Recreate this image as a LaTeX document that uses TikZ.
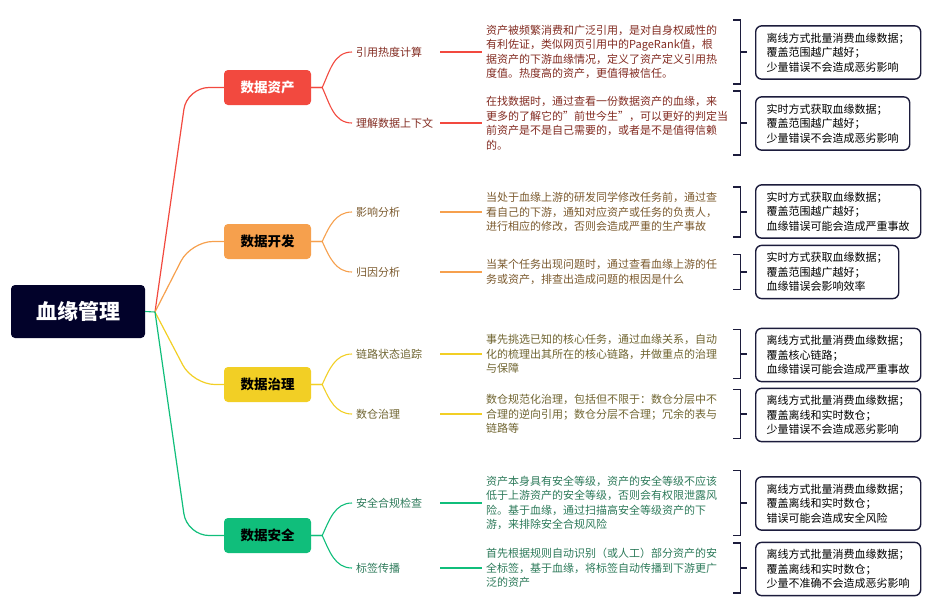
\documentclass[tikz,border=0pt]{standalone}
\usepackage{fontspec}
\setmainfont{Noto Sans CJK SC}
\usepackage{tikz}
\usetikzlibrary{positioning}
\definecolor{rootblue}{HTML}{02022A}
\definecolor{notec}{HTML}{1C1C3C}
\definecolor{redl}{HTML}{F2493F}
\definecolor{redt}{HTML}{822B21}
\definecolor{orgl}{HTML}{F6A04D}
\definecolor{orgt}{HTML}{7B5A2E}
\definecolor{yell}{HTML}{F2CF25}
\definecolor{yelt}{HTML}{6F6430}
\definecolor{grnl}{HTML}{10BE7B}
\definecolor{grnt}{HTML}{2D7A5A}
\tikzstyle{root} = [rectangle, rounded corners=4pt, fill=rootblue, text=white, font=\fontsize{21}{24}\selectfont\bfseries, minimum width=134pt, minimum height=53pt]
\tikzstyle{cat} = [rectangle, rounded corners=4pt, minimum width=87pt, minimum height=35pt, font=\fontsize{13.5}{16}\selectfont\bfseries]
\tikzstyle{sub} = [anchor=west, inner xsep=4pt, inner ysep=2pt, text width=80pt, font=\fontsize{11}{13}\selectfont]
\tikzstyle{desc} = [anchor=west, inner xsep=4pt, inner ysep=5pt, text width=243pt, align=left, font=\fontsize{11}{14.5}\selectfont]
\tikzstyle{note} = [anchor=west, draw=notec, line width=1.4pt, rounded corners=6pt, inner xsep=11pt, inner ysep=7pt, align=left, font=\fontsize{11}{14.5}\selectfont]
\tikzstyle{branch} = [line width=1.2pt, rounded corners=22pt]
\tikzstyle{sline} = [line width=1.1pt]
\tikzstyle{bracket} = [line width=1.4pt, draw=notec]

\begin{document}
\begin{tikzpicture}[x=1pt, y=1pt]
                \useasboundingbox (0,0) rectangle (937,-603);
                \node (root) [root] at (78,-311.5) {血缘管理};
                \node (asset) [cat, fill=redl, text=white] at (267.5,-87.5) {数据资产};
                \node (dev) [cat, fill=orgl] at (267.5,-241.5) {数据开发};
                \node (gov) [cat, fill=yell] at (267.5,-384.5) {数据治理};
                \node (sec) [cat, fill=grnl] at (267.5,-535.5) {数据安全};

                \node (heat) [sub, text=redt] at (352,-52) {引用热度计算};
                \node (ctx) [sub, text=redt] at (352,-123) {理解数据上下文};
                \node (impact) [sub, text=orgt] at (352,-212) {影响分析};
                \node (cause) [sub, text=orgt] at (352,-272) {归因分析};
                \node (trace) [sub, text=yelt] at (352,-354) {链路状态追踪};
                \node (dw) [sub, text=yelt] at (352,-414) {数仓治理};
                \node (check) [sub, text=grnt] at (352,-503) {安全合规检查};
                \node (tag) [sub, text=grnt] at (352,-568) {标签传播};

                \node (heatd) [desc, text=redt] at (482,-52) {资产被频繁消费和广泛引用，是对自身权威性的\\有利佐证，类似网页引用中的PageRank值，根\\据资产的下游血缘情况，定义了资产定义引用热\\度值。热度高的资产，更值得被信任。};
                \node (ctxd) [desc, text=redt] at (482,-123) {在找数据时，通过查看一份数据资产的血缘，来\\更多的了解它的"前世今生"，可以更好的判定当\\前资产是不是自己需要的，或者是不是值得信赖\\的。};
                \node (impactd) [desc, text=orgt] at (482,-212) {当处于血缘上游的研发同学修改任务前，通过查\\看自己的下游，通知对应资产或任务的负责人，\\进行相应的修改，否则会造成严重的生产事故};
                \node (caused) [desc, text=orgt] at (482,-272) {当某个任务出现问题时，通过查看血缘上游的任\\务或资产，排查出造成问题的根因是什么};
                \node (traced) [desc, text=yelt] at (482,-354) {事先挑选已知的核心任务，通过血缘关系，自动\\化的梳理出其所在的核心链路，并做重点的治理\\与保障};
                \node (dwd) [desc, text=yelt] at (482,-414) {数仓规范化治理，包括但不限于：数仓分层中不\\合理的逆向引用；数仓分层不合理；冗余的表与\\链路等};
                \node (checkd) [desc, text=grnt] at (482,-503) {资产本身具有安全等级，资产的安全等级不应该\\低于上游资产的安全等级，否则会有权限泄露风\\险。基于血缘，通过扫描高安全等级资产的下\\游，来排除安全合规风险};
                \node (tagd) [desc, text=grnt] at (482,-568) {首先根据规则自动识别（或人工）部分资产的安\\全标签，基于血缘，将标签自动传播到下游更广\\泛的资产};

                \node (heatn) [note] at (755,-52.5) {离线方式批量消费血缘数据；\\覆盖范围越广越好；\\少量错误不会造成恶劣影响};
                \node (ctxn) [note] at (755,-123.5) {实时方式获取血缘数据；\\覆盖范围越广越好；\\少量错误不会造成恶劣影响};
                \node (impactn) [note] at (755,-211.5) {实时方式获取血缘数据；\\覆盖范围越广越好；\\血缘错误可能会造成严重事故};
                \node (causen) [note] at (755,-272) {实时方式获取血缘数据；\\覆盖范围越广越好；\\血缘错误会影响效率};
                \node (tracen) [note] at (755,-355) {离线方式批量消费血缘数据；\\覆盖核心链路；\\血缘错误可能会造成严重事故};
                \node (dwn) [note] at (755,-415) {离线方式批量消费血缘数据；\\覆盖离线和实时数仓；\\少量错误不会造成恶劣影响};
                \node (checkn) [note] at (755,-503.5) {离线方式批量消费血缘数据；\\覆盖离线和实时数仓；\\错误可能会造成安全风险};
                \node (tagn) [note] at (755,-569) {离线方式批量消费血缘数据；\\覆盖离线和实时数仓；\\少量不准确不会造成恶劣影响};

                \coordinate (hub) at (155,-312);
                \draw [branch, redl] (hub) -- (187,-87.5) -- (asset.west);
                \draw [branch, orgl] (hub) -- (191,-241.5) -- (dev.west);
                \draw [branch, yell] (hub) -- (193,-384.5) -- (gov.west);
                \draw [branch, grnl] (hub) -- (187,-535.5) -- (sec.west);
                \draw [sline, grnl] (root.east) -- (hub);

                \draw [sline, redl] (asset.east) -- ++(11,0) to[out=65, in=180] (heat.west);
                \draw [sline, redl] (asset.east) -- ++(11,0) to[out=-65, in=180] (ctx.west);
                \draw [sline, orgl] (dev.east) -- ++(11,0) to[out=65, in=180] (impact.west);
                \draw [sline, orgl] (dev.east) -- ++(11,0) to[out=-65, in=180] (cause.west);
                \draw [sline, yell] (gov.east) -- ++(11,0) to[out=65, in=180] (trace.west);
                \draw [sline, yell] (gov.east) -- ++(11,0) to[out=-65, in=180] (dw.west);
                \draw [sline, grnl] (sec.east) -- ++(11,0) to[out=65, in=180] (check.west);
                \draw [sline, grnl] (sec.east) -- ++(11,0) to[out=-65, in=180] (tag.west);

                \draw [sline, redl] (heat.east) -- (heatd.west);
                \draw [sline, redl] (ctx.east) -- (ctxd.west);
                \draw [sline, orgl] (impact.east) -- (impactd.west);
                \draw [sline, orgl] (cause.east) -- (caused.west);
                \draw [sline, yell] (trace.east) -- (traced.west);
                \draw [sline, yell] (dw.east) -- (dwd.west);
                \draw [sline, grnl] (check.east) -- (checkd.west);
                \draw [sline, grnl] (tag.east) -- (tagd.west);

                \draw [bracket] (heatd.north east) -- ++(7,0) |- (heatd.south east);
                \draw [bracket] (heatd.east) ++(7,0) -- ++(7,0);
                \draw [bracket] (ctxd.north east) -- ++(7,0) |- (ctxd.south east);
                \draw [bracket] (ctxd.east) ++(7,0) -- ++(7,0);
                \draw [bracket] (impactd.north east) -- ++(7,0) |- (impactd.south east);
                \draw [bracket] (impactd.east) ++(7,0) -- ++(7,0);
                \draw [bracket] (caused.north east) -- ++(7,0) |- (caused.south east);
                \draw [bracket] (caused.east) ++(7,0) -- ++(7,0);
                \draw [bracket] (traced.north east) -- ++(7,0) |- (traced.south east);
                \draw [bracket] (traced.east) ++(7,0) -- ++(7,0);
                \draw [bracket] (dwd.north east) -- ++(7,0) |- (dwd.south east);
                \draw [bracket] (dwd.east) ++(7,0) -- ++(7,0);
                \draw [bracket] (checkd.north east) -- ++(7,0) |- (checkd.south east);
                \draw [bracket] (checkd.east) ++(7,0) -- ++(7,0);
                \draw [bracket] (tagd.north east) -- ++(7,0) |- (tagd.south east);
                \draw [bracket] (tagd.east) ++(7,0) -- ++(7,0);
            \end{tikzpicture}
\end{document}
